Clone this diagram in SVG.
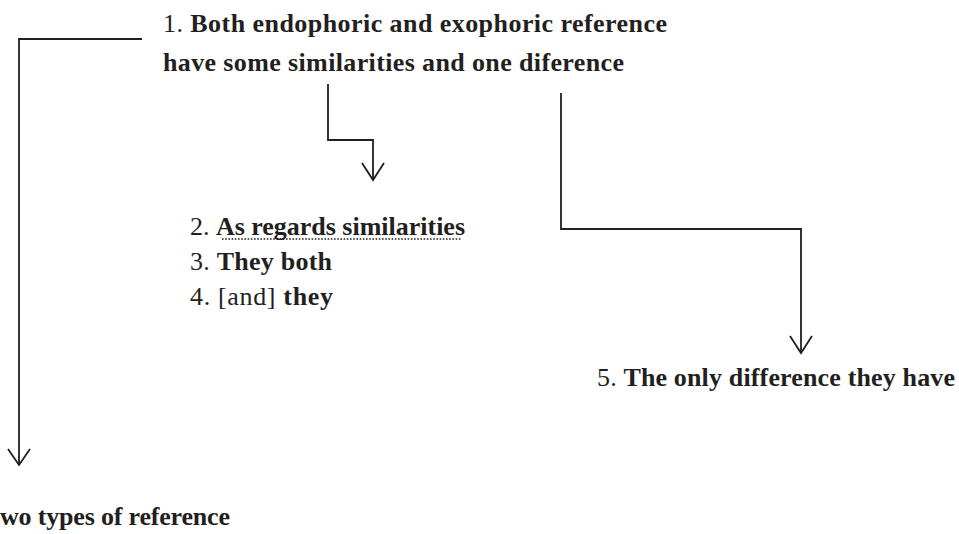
<svg xmlns="http://www.w3.org/2000/svg" width="959" height="534" viewBox="0 0 959 534">
<style>
text{font-family:"Liberation Serif","DejaVu Serif",serif;font-size:26px;fill:#231f20}
.b{font-weight:bold}
.r{font-weight:normal}
.c{fill:none;stroke:#231f20;stroke-width:1.8}
.ah{fill:none;stroke:#231f20;stroke-width:1.8}
.dot{stroke:#231f20;stroke-width:1.6;stroke-dasharray:1.6 1.6}
</style>
<rect width="959" height="534" fill="#fff"/>
<g id="connectors">
<path class="c" d="M142 39 H19 V464"/>
<path class="ah" d="M8 449 L19 465 L30 449"/>
<path class="c" d="M328 84 V140 H373 V179"/>
<path class="ah" d="M362 163 L373 180 L384 163"/>
<path class="c" d="M561 93 V229 H801 V352"/>
<path class="ah" d="M790 336 L801 353 L812 336"/>
</g>
<g id="node1">
<text x="163" y="32" textLength="504" lengthAdjust="spacing"><tspan class="r">1. </tspan><tspan class="b">Both endophoric and exophoric reference</tspan></text>
<text x="163" y="71" class="b" textLength="461" lengthAdjust="spacing">have some similarities and one diference</text>
</g>
<g id="node2">
<text x="190" y="235" textLength="275" lengthAdjust="spacing"><tspan class="r">2. </tspan><tspan class="b">As regards similarities</tspan></text>
<line class="dot" x1="222" y1="239" x2="462" y2="239"/>
</g>
<g id="node3">
<text x="190" y="270" textLength="142" lengthAdjust="spacing"><tspan class="r">3. </tspan><tspan class="b">They both</tspan></text>
</g>
<g id="node4">
<text x="190" y="305" textLength="143" lengthAdjust="spacing"><tspan class="r">4. [and] </tspan><tspan class="b">they</tspan></text>
</g>
<g id="node5">
<text x="597" y="386" textLength="358" lengthAdjust="spacing"><tspan class="r">5. </tspan><tspan class="b">The only difference they have</tspan></text>
</g>
<g id="node6">
<text x="0" y="525" class="b" textLength="230" lengthAdjust="spacing">wo types of reference</text>
</g>
</svg>
